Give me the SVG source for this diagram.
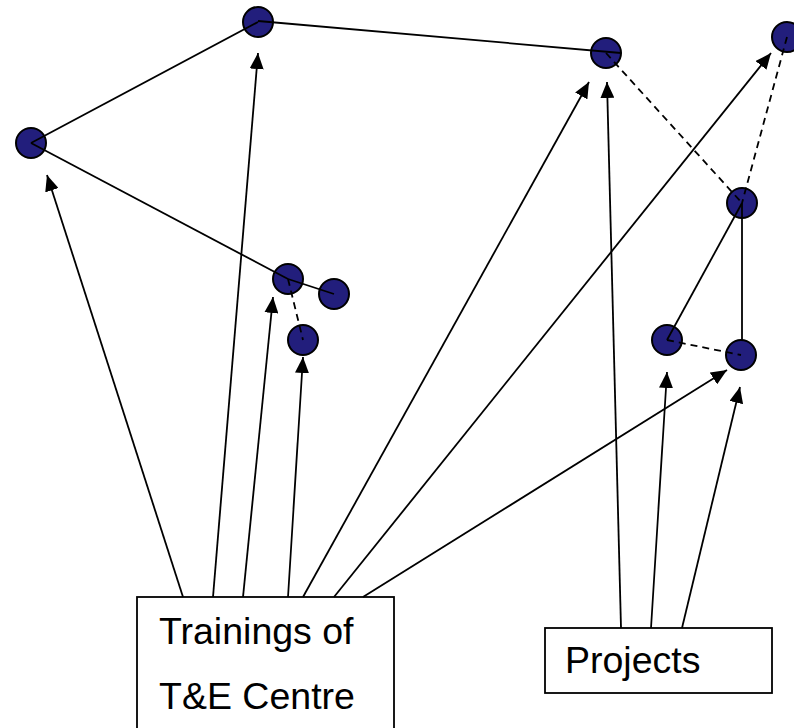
<svg xmlns="http://www.w3.org/2000/svg" width="794" height="728" viewBox="0 0 794 728">
<style>
.node{fill:#221e7c;stroke:#000;stroke-width:2}
.ln{stroke:#000;stroke-width:1.8;fill:none}
.dash{stroke:#000;stroke-width:1.8;fill:none;stroke-dasharray:7,5}
.arr{stroke:#000;stroke-width:1.8;fill:none;marker-end:url(#ah)}
.box{fill:#fff;stroke:#000;stroke-width:1.8}
.lbl{font-family:"Liberation Sans",Arial,sans-serif;font-size:37.5px;fill:#000}
</style>
<defs>
<marker id="ah" markerWidth="16" markerHeight="14" refX="16" refY="7" orient="auto" markerUnits="userSpaceOnUse">
<path d="M0,0 L16,7 L0,14 z" fill="#000"/>
</marker>
</defs>
<rect width="794" height="728" fill="#fff"/>
<g id="nodes">
<g id="nA"><circle class="node" cx="258" cy="22" r="15"/></g>
<g id="nB"><circle class="node" cx="31" cy="143" r="15"/></g>
<g id="nC"><circle class="node" cx="606" cy="53" r="15"/></g>
<g id="nD"><circle class="node" cx="787" cy="37" r="15"/></g>
<g id="nE"><circle class="node" cx="742" cy="203" r="15"/></g>
<g id="nF"><circle class="node" cx="288" cy="279" r="15"/></g>
<g id="nG"><circle class="node" cx="334" cy="294" r="15"/></g>
<g id="nH"><circle class="node" cx="303" cy="340" r="15"/></g>
<g id="nI"><circle class="node" cx="667" cy="340" r="15"/></g>
<g id="nJ"><circle class="node" cx="741" cy="355" r="15"/></g>
</g>
<g id="training-box">
<rect class="box" x="137" y="597" width="257" height="140"/>
<text class="lbl" x="159" y="644">Trainings of</text>
<text class="lbl" x="159" y="709">T&amp;E Centre</text>
</g>
<g id="projects-box">
<rect class="box" x="545" y="628" width="227" height="65"/>
<text class="lbl" x="565" y="673">Projects</text>
</g>
<g id="connectors">
<line class="ln" x1="258" y1="22" x2="31" y2="143"/>
<line class="ln" x1="258" y1="21" x2="621" y2="53"/>
<line class="ln" x1="31" y1="143" x2="288" y2="279"/>
<line class="ln" x1="288" y1="279" x2="334" y2="294"/>
<line class="dash" x1="288" y1="279" x2="303" y2="340"/>
<line class="dash" x1="606" y1="53" x2="742" y2="203"/>
<line class="dash" x1="787" y1="37" x2="742" y2="203"/>
<line class="ln" x1="742" y1="203" x2="667" y2="340"/>
<line class="ln" x1="742" y1="203" x2="742" y2="340"/>
<line class="dash" x1="667" y1="340" x2="741" y2="355"/>
<line class="arr" x1="183" y1="597" x2="47" y2="175"/>
<line class="arr" x1="213" y1="597" x2="258" y2="53"/>
<line class="arr" x1="243" y1="597" x2="273" y2="297"/>
<line class="arr" x1="288" y1="597" x2="303" y2="357"/>
<line class="arr" x1="303" y1="597" x2="589" y2="82"/>
<line class="arr" x1="334" y1="597" x2="771" y2="53"/>
<line class="arr" x1="363" y1="597" x2="727" y2="370"/>
<line class="arr" x1="621" y1="628" x2="607" y2="82"/>
<line class="arr" x1="651" y1="628" x2="667" y2="372"/>
<line class="arr" x1="682" y1="628" x2="740" y2="387"/>
</g>
</svg>
